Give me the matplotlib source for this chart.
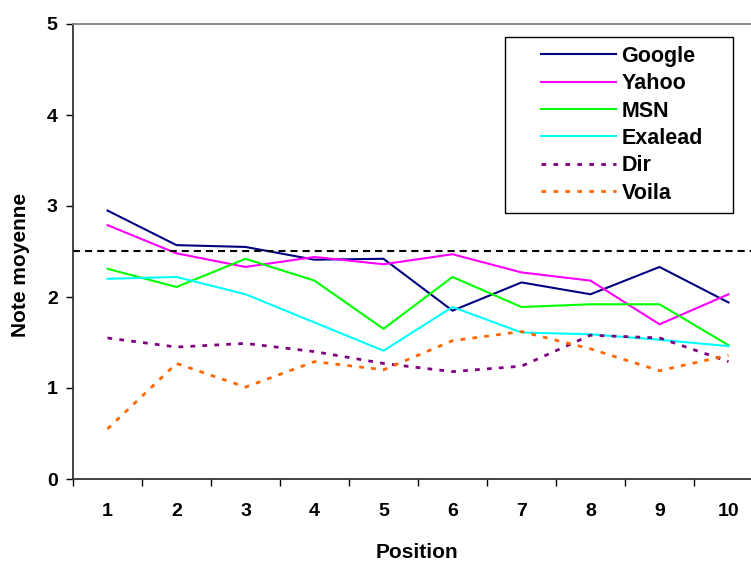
import numpy as np
import matplotlib
matplotlib.use("Agg")
import matplotlib.pyplot as plt
from matplotlib.legend_handler import HandlerLine2D

positions = [1, 2, 3, 4, 5, 6, 7, 8, 9, 10]
google = [2.95, 2.57, 2.55, 2.41, 2.42, 1.85, 2.16, 2.03, 2.33, 1.94]
yahoo = [2.79, 2.48, 2.33, 2.44, 2.36, 2.47, 2.27, 2.18, 1.70, 2.03]
msn = [2.31, 2.11, 2.42, 2.18, 1.65, 2.22, 1.89, 1.92, 1.92, 1.47]
exalead = [2.20, 2.22, 2.03, 1.72, 1.41, 1.89, 1.61, 1.59, 1.53, 1.46]
dir_ = [1.55, 1.45, 1.49, 1.40, 1.27, 1.18, 1.24, 1.58, 1.55, 1.29]
voila = [0.55, 1.27, 1.01, 1.29, 1.20, 1.52, 1.62, 1.43, 1.19, 1.36]
mean_all = 2.51

plt.rcParams['font.family'] = ['Liberation Sans', 'DejaVu Sans']
plt.rcParams['font.weight'] = 'bold'

fig = plt.figure(figsize=(7.51, 5.61), dpi=100)
ax = fig.add_axes([73 / 751, 1 - 479 / 561, 690 / 751, 455 / 561])

ax.plot(positions, google, color='#000080', lw=1.5, label='Google')
ax.plot(positions, yahoo, color='#FF00FF', lw=1.5, label='Yahoo')
ax.plot(positions, msn, color='#00FF00', lw=1.5, label='MSN')
ax.plot(positions, exalead, color='#00FFFF', lw=1.5, label='Exalead')
ax.plot(positions, dir_, color='#800080', lw=2, dashes=(1.7, 2.6),
        dash_capstyle='butt', label='Dir')
ax.plot(positions, voila, color='#FF6600', lw=2, dashes=(1.7, 2.6),
        dash_capstyle='butt', label='Voila')
ax.axhline(mean_all, color='black', lw=1.5, dashes=(3.4, 2.4))

ax.set_xlim(0.5, 10.5)
ax.set_ylim(0, 5)
ax.set_xticks(positions)
ax.set_xticks(np.arange(0.5, 11, 1), minor=True)
ax.tick_params(axis='x', which='major', length=0, pad=17, labelsize=14)
ax.tick_params(axis='x', which='minor', length=5, width=1, direction='out')
ax.set_yticks([0, 1, 2, 3, 4, 5])
ax.tick_params(axis='y', length=5, width=1, direction='out', pad=6, labelsize=14)

for s in ['left', 'bottom']:
    ax.spines[s].set_color('#333333')
    ax.spines[s].set_linewidth(1.3)
ax.spines['top'].set_color('#808080')
ax.spines['top'].set_linewidth(1.3)
ax.spines['right'].set_visible(False)

ax.set_xlabel('Position', fontsize=15, fontweight='bold')
ax.xaxis.set_label_coords(0.499, -0.141)
ax.set_ylabel('Note moyenne', fontsize=15, fontweight='bold')
ax.yaxis.set_label_coords(-0.062, 0.47)

fs = 15.5
leg = ax.legend(loc='upper left', fontsize=fs, frameon=True, fancybox=False,
                edgecolor='black', framealpha=1,
                bbox_to_anchor=(505 / 751, 1 - 213 / 561, 228 / 751, 176 / 561),
                bbox_transform=fig.transFigure, mode='expand', borderaxespad=0,
                borderpad=0.4, handlelength=4.76, handletextpad=0.25,
                labelspacing=0.3,
                handler_map={matplotlib.lines.Line2D: HandlerLine2D(xpad=1.27)})
leg.get_frame().set_linewidth(1)

fig.savefig('out.png', dpi=100)
